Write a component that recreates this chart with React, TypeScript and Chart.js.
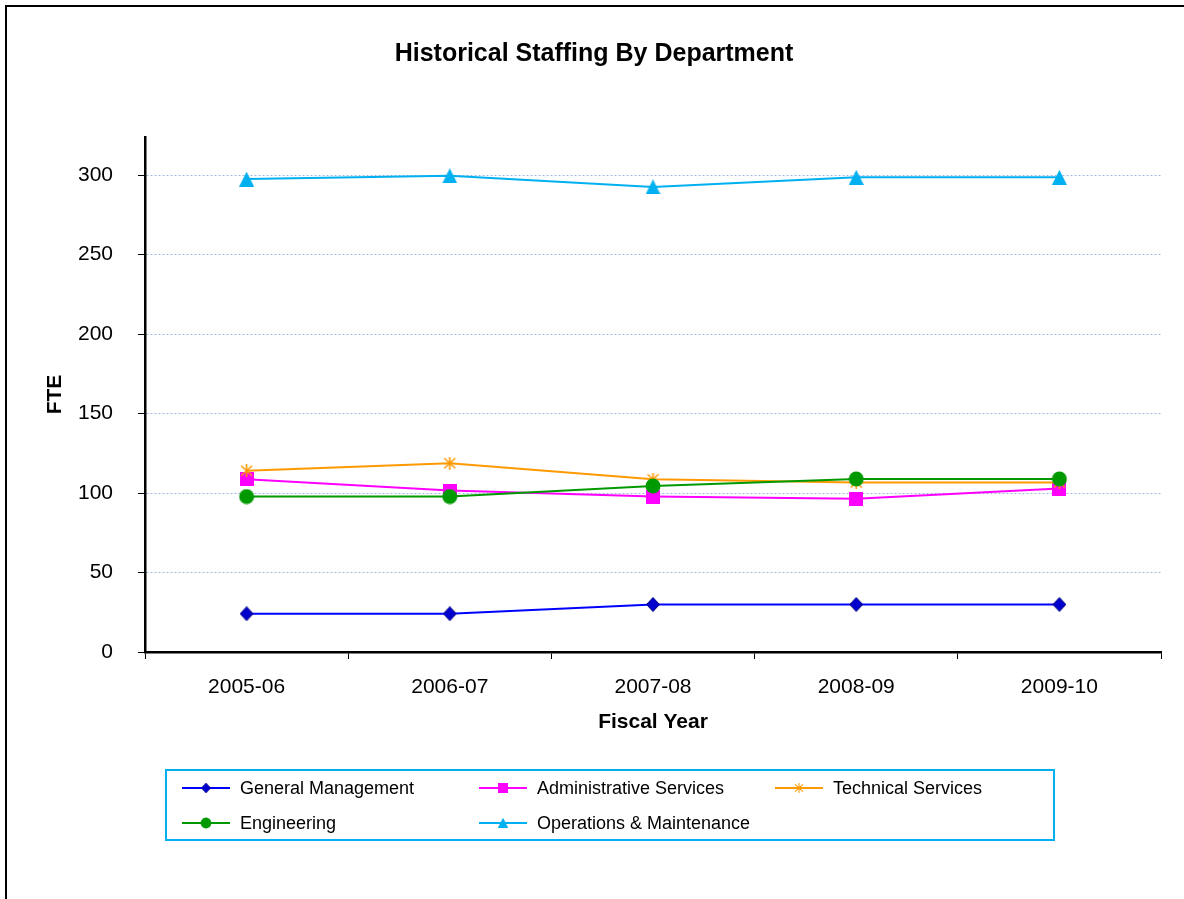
import React, { useEffect, useRef } from 'react';
import { Chart, registerables } from 'chart.js';

Chart.register(...registerables);

const chartTitle = 'Historical Staffing By Department';
const xAxisTitle = 'Fiscal Year';
const yAxisTitle = 'FTE';
const categories = ['2005-06', '2006-07', '2007-08', '2008-09', '2009-10'];
const generalManagement = [24.1, 24.1, 29.9, 29.9, 29.9];
const administrativeServices = [108.7, 101.6, 97.8, 96.4, 102.8];
const technicalServices = [114.0, 118.8, 108.7, 106.6, 106.6];
const engineering = [97.8, 97.8, 104.5, 108.9, 108.9];
const operationsMaintenance = [297.5, 299.6, 292.6, 298.6, 298.6];
const seriesNames = [
  'General Management',
  'Administrative Services',
  'Technical Services',
  'Engineering',
  'Operations & Maintenance',
];
const yTicks = [0, 50, 100, 150, 200, 250, 300];
const yMax = 324;

const FONT = "Arial, 'Liberation Sans', sans-serif";

type MarkerKind = 'diamond' | 'square' | 'asterisk' | 'circle' | 'triangle';

function makeMarker(kind: MarkerKind, fill: string, stroke: string, w: number, h: number) {
  const c = document.createElement('canvas');
  c.width = w;
  c.height = h;
  const g = c.getContext('2d')!;
  g.fillStyle = fill;
  g.strokeStyle = stroke;
  g.lineWidth = 1;
  if (kind === 'diamond') {
    g.beginPath();
    g.moveTo(w / 2, 0.5);
    g.lineTo(w - 0.5, h / 2);
    g.lineTo(w / 2, h - 0.5);
    g.lineTo(0.5, h / 2);
    g.closePath();
    g.fill();
    g.stroke();
  } else if (kind === 'square') {
    g.fillRect(0, 0, w, h);
  } else if (kind === 'circle') {
    g.beginPath();
    g.ellipse(w / 2, h / 2, w / 2 - 0.5, h / 2 - 0.5, 0, 0, Math.PI * 2);
    g.fill();
  } else if (kind === 'triangle') {
    g.beginPath();
    g.moveTo(w / 2, 0);
    g.lineTo(w, h);
    g.lineTo(0, h);
    g.closePath();
    g.fill();
  } else if (kind === 'asterisk') {
    g.lineWidth = 1.6;
    g.beginPath();
    g.moveTo(1, 1.5);
    g.lineTo(w - 1, h - 1.5);
    g.moveTo(w - 1, 1.5);
    g.lineTo(1, h - 1.5);
    g.moveTo(w / 2, 0);
    g.lineTo(w / 2, h);
    g.stroke();
  }
  return c;
}

export default function App() {
  const ref = useRef<HTMLCanvasElement | null>(null);

  useEffect(() => {
    if (!ref.current) return;
    const colors = ['#0000FF', '#FF00FF', '#FF9900', '#009900', '#00B0F0'];
    const markers = [
      makeMarker('diamond', '#0000CC', '#000080', 14, 15),
      makeMarker('square', '#FF00FF', '#FF00FF', 14, 14),
      makeMarker('asterisk', '#FF9900', '#FF9900', 13, 13),
      makeMarker('circle', '#009900', '#009900', 16, 16),
      makeMarker('triangle', '#00B0F0', '#00B0F0', 15, 15),
    ];
    const values = [generalManagement, administrativeServices, technicalServices, engineering, operationsMaintenance];

    const decorPlugin = {
      id: 'decor',
      beforeDraw(chart: any) {
        const ctx = chart.ctx;
        ctx.save();
        ctx.fillStyle = '#ffffff';
        ctx.fillRect(0, 0, chart.width, chart.height);
        ctx.strokeStyle = '#000000';
        ctx.lineWidth = 2;
        ctx.strokeRect(6, 6, chart.width + 20, chart.height + 20);
        ctx.fillStyle = '#000000';
        ctx.font = `bold 25px ${FONT}`;
        ctx.textAlign = 'center';
        ctx.textBaseline = 'middle';
        ctx.fillText(chartTitle, 594, 54);
        ctx.restore();
      },
      afterDraw(chart: any) {
        const ctx = chart.ctx;
        ctx.save();
        ctx.strokeStyle = '#00B0F0';
        ctx.lineWidth = 2;
        ctx.strokeRect(166, 770, 888, 70);
        const colX = [182, 479, 775];
        const rowY = [788, 823];
        ctx.font = `18px ${FONT}`;
        ctx.textBaseline = 'middle';
        ctx.textAlign = 'left';
        seriesNames.forEach((name, i) => {
          const x = colX[i % 3];
          const y = rowY[Math.floor(i / 3)];
          ctx.strokeStyle = colors[i];
          ctx.lineWidth = 2;
          ctx.beginPath();
          ctx.moveTo(x, y);
          ctx.lineTo(x + 48, y);
          ctx.stroke();
          const m = markers[i];
          const s = 0.72;
          ctx.drawImage(m, x + 24 - (m.width * s) / 2, y - (m.height * s) / 2, m.width * s, m.height * s);
          ctx.fillStyle = '#000000';
          ctx.fillText(name, x + 58, y + 1);
        });
        ctx.restore();
      },
    };

    const chart = new Chart(ref.current, {
      type: 'line',
      data: {
        labels: categories,
        datasets: seriesNames.map((name, i) => ({
          label: name,
          data: values[i],
          borderColor: colors[i],
          backgroundColor: colors[i],
          borderWidth: 2,
          pointStyle: markers[i] as any,
          pointRadius: 6,
          tension: 0,
          order: 5 - i,
        })),
      },
      options: {
        responsive: false,
        animation: false,
        events: [],
        layout: { padding: { left: 0, right: 23, top: 137, bottom: 899 - 652 - 83 } },
        plugins: {
          legend: { display: false },
          title: { display: false },
          tooltip: { enabled: false },
        },
        scales: {
          x: {
            type: 'category',
            offset: true,
            grid: {
              offset: true,
              drawOnChartArea: false,
              drawTicks: true,
              tickLength: 7,
              tickColor: '#000000',
              tickWidth: 1,
            },
            border: { display: true, color: '#000000', width: 2.5 },
            ticks: { color: '#000000', font: { family: FONT, size: 21 }, padding: 16, maxRotation: 0 },
            title: {
              display: true,
              text: xAxisTitle,
              color: '#000000',
              font: { family: FONT, size: 21, weight: 'bold' },
              padding: { top: 0, bottom: 0 },
            },
            afterFit(scale: any) {
              scale.height = 83;
            },
          },
          y: {
            type: 'linear',
            min: 0,
            max: yMax,
            grid: {
              drawOnChartArea: true,
              drawTicks: true,
              tickLength: 7,
              tickColor: '#000000',
              tickWidth: 1,
              color: (c: any) => (c.tick && c.tick.value === 0 ? 'rgba(0,0,0,0)' : '#A3B6E2'),
              lineWidth: 1,
            },
            border: { display: true, color: '#000000', width: 2.5, dash: [2, 2] },
            ticks: { color: '#000000', font: { family: FONT, size: 21 }, padding: 25 },
            afterBuildTicks(scale: any) {
              scale.ticks = yTicks.map((v) => ({ value: v }));
            },
            title: {
              display: true,
              text: yAxisTitle,
              color: '#000000',
              font: { family: FONT, size: 21, weight: 'bold' },
              padding: { top: 43, bottom: 0 },
            },
            afterFit(scale: any) {
              scale.width = 145;
            },
          },
        },
      },
      plugins: [decorPlugin],
    });
    return () => chart.destroy();
  }, []);

  return (
    <div style={{ position: 'absolute', left: 0, top: 0, width: 1184, height: 899, overflow: 'hidden' }}>
      <canvas ref={ref} width={1184} height={899} style={{ display: 'block' }} />
    </div>
  );
}
